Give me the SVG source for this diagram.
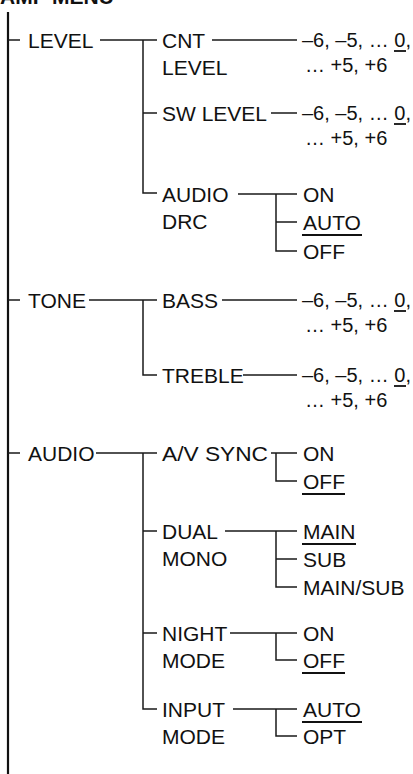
<svg xmlns="http://www.w3.org/2000/svg" width="413" height="774" viewBox="0 0 413 774">
<style>
text{font-family:"Liberation Sans",Arial,sans-serif;font-size:21px;fill:#111}
.v{font-size:20px}
.h{font-weight:bold}
.c{fill:none;stroke:#1a1a1a;stroke-width:1.5}
.m{fill:none;stroke:#111;stroke-width:2.2}
.u{stroke:#111;stroke-width:1.8}
</style>
<rect width="413" height="774" fill="#fff"/>
<text class="h" x="0" y="4">AMP MENU</text>
<g id="connectors">
<path class="m" d="M8 12V774"/>
<path class="c" d="M8 40H20M8 300H20M8 453H20"/>
<path class="c" d="M100 40H157M143 40V193H157M143 113H157"/>
<path class="c" d="M212 40H297M271 113H297"/>
<path class="c" d="M238 194H297M276 194V251H297M276 222H297"/>
<path class="c" d="M89 300H157M143 300V375H157"/>
<path class="c" d="M222 300H297M243 375H297"/>
<path class="c" d="M96 453H157M143 453V709H157M143 531H157M143 633H157"/>
<path class="c" d="M271 453H297M276 453V481H297"/>
<path class="c" d="M225 531H297M276 531V587H297M276 559H297"/>
<path class="c" d="M230 633H297M276 633V660H297"/>
<path class="c" d="M233 709H297M276 709V736H297"/>
</g>
<g id="level"><text x="28" y="47.5">LEVEL</text></g>
<g id="cnt-level"><text x="162" y="47.5">CNT</text><text x="162" y="74.5">LEVEL</text></g>
<g id="cnt-values"><text class="v" x="302" y="47">–6, –5, … 0,</text><text class="v" x="305" y="72">… +5, +6</text><line class="u" x1="394" y1="51" x2="406" y2="51"/></g>
<g id="sw-level"><text x="162" y="120.5">SW LEVEL</text></g>
<g id="sw-values"><text class="v" x="302" y="120">–6, –5, … 0,</text><text class="v" x="305" y="145">… +5, +6</text><line class="u" x1="394" y1="124" x2="406" y2="124"/></g>
<g id="audio-drc"><text x="162" y="201.5">AUDIO</text><text x="162" y="228.5">DRC</text></g>
<g id="drc-on"><text x="303" y="201.5">ON</text></g>
<g id="drc-auto"><text x="303" y="229.5">AUTO</text><line class="u" x1="302" y1="235" x2="362" y2="235"/></g>
<g id="drc-off"><text x="303" y="258.5">OFF</text></g>
<g id="tone"><text x="28" y="307.5">TONE</text></g>
<g id="bass"><text x="162" y="307.5">BASS</text></g>
<g id="bass-values"><text class="v" x="302" y="307">–6, –5, … 0,</text><text class="v" x="305" y="332">… +5, +6</text><line class="u" x1="394" y1="311" x2="406" y2="311"/></g>
<g id="treble"><text x="162" y="382.5">TREBLE</text></g>
<g id="treble-values"><text class="v" x="302" y="382">–6, –5, … 0,</text><text class="v" x="305" y="407">… +5, +6</text><line class="u" x1="394" y1="386" x2="406" y2="386"/></g>
<g id="audio"><text x="28" y="460.5">AUDIO</text></g>
<g id="av-sync"><text x="162" y="460.5" textLength="106" lengthAdjust="spacingAndGlyphs">A/V SYNC</text></g>
<g id="av-on"><text x="303" y="460.5">ON</text></g>
<g id="av-off"><text x="303" y="488.5">OFF</text><line class="u" x1="302" y1="494" x2="345" y2="494"/></g>
<g id="dual-mono"><text x="162" y="538.5">DUAL</text><text x="162" y="565.5">MONO</text></g>
<g id="dual-main"><text x="303" y="538.5">MAIN</text><line class="u" x1="302" y1="544" x2="356" y2="544"/></g>
<g id="dual-sub"><text x="303" y="566.5">SUB</text></g>
<g id="dual-mainsub"><text x="303" y="594.5">MAIN/SUB</text></g>
<g id="night-mode"><text x="162" y="640.5">NIGHT</text><text x="162" y="667.5">MODE</text></g>
<g id="night-on"><text x="303" y="640.5">ON</text></g>
<g id="night-off"><text x="303" y="667.5">OFF</text><line class="u" x1="302" y1="673" x2="345" y2="673"/></g>
<g id="input-mode"><text x="162" y="716.5">INPUT</text><text x="162" y="743.5">MODE</text></g>
<g id="input-auto"><text x="303" y="716.5">AUTO</text><line class="u" x1="302" y1="722" x2="362" y2="722"/></g>
<g id="input-opt"><text x="303" y="743.5">OPT</text></g>
</svg>
